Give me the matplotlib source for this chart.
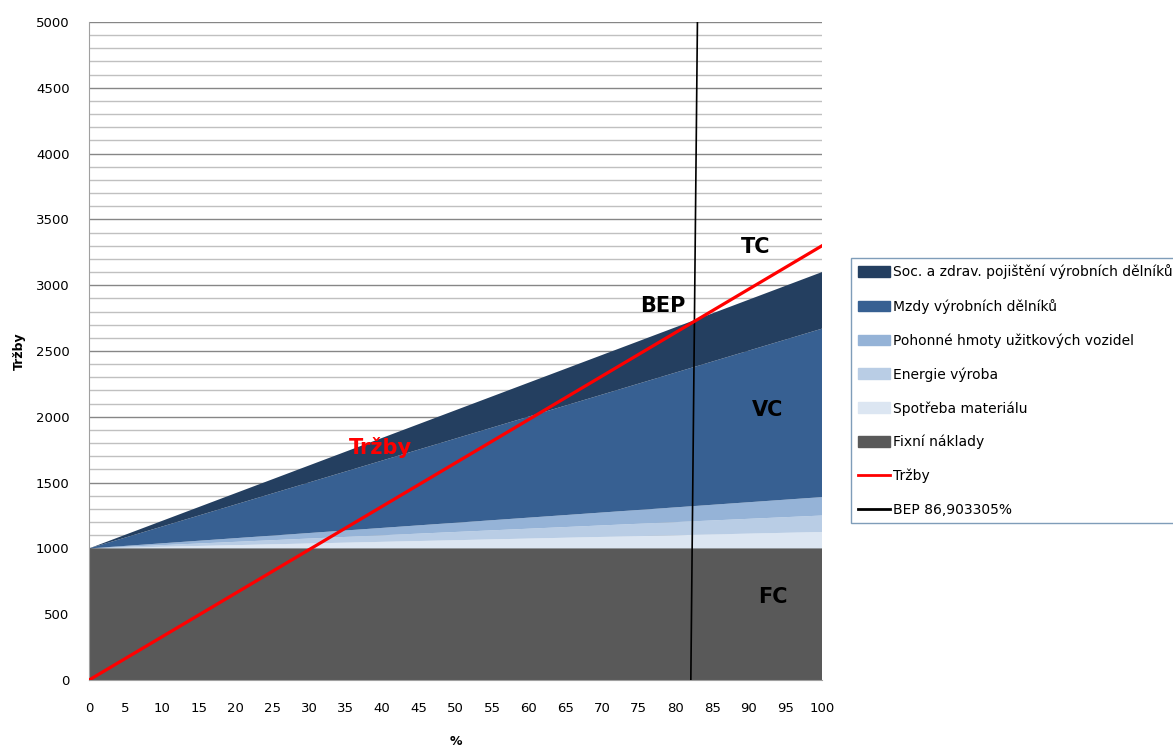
import numpy as np
import matplotlib
matplotlib.use("Agg")
from matplotlib import pyplot as plt
from matplotlib.patches import Patch
from matplotlib.lines import Line2D

# vyroba v % kapacity (linearni naklady, staci krajni body)
x = [0, 100]

fixni = [1000, 1000]
spotreba = [0, 125]
energie = [0, 125]
pohonne = [0, 140]
mzdy = [0, 1280]
soc = [0, 430]

trzby = [0, 3300]

bep_x = [82.1, 83.0]
bep_y = [0, 5000]

labels = ["Fixní náklady", "Spotřeba materiálu", "Energie výroba",
          "Pohonné hmoty užitkových vozidel", "Mzdy výrobních dělníků",
          "Soc. a zdrav. pojištění výrobních dělníků"]
colors = ["#595959", "#dce6f2", "#b9cde5", "#95b3d7", "#376092", "#243f60"]

plt.rcParams['font.family'] = ['DejaVu Sans']

fig = plt.figure(figsize=(11.73, 7.51), dpi=100)
ax = fig.add_axes([0.0759, 0.0945, 0.6249, 0.8762])

ax.stackplot(x, fixni, spotreba, energie, pohonne, mzdy, soc,
             colors=colors, zorder=2)
ax.plot(x, trzby, color="#ff0000", lw=2.3, zorder=4)
ax.plot(bep_x, bep_y, color="black", lw=1.2, zorder=3)

ax.set_xlim(0, 100)
ax.set_ylim(0, 5000)
ax.set_xticks(np.arange(0, 101, 5))
ax.set_yticks(np.arange(0, 5001, 500))
ax.set_yticks(np.arange(0, 5001, 100), minor=True)
ax.grid(which='major', axis='y', color='#868686', lw=1.0, zorder=0)
ax.grid(which='minor', axis='y', color='#c0c0c0', lw=1.0, zorder=0)
ax.set_axisbelow(True)
ax.tick_params(axis='both', which='both', length=0, labelsize=9.5)
ax.tick_params(axis='x', pad=16)
ax.tick_params(axis='y', pad=14)
for s in ['top', 'right']:
    ax.spines[s].set_visible(False)
for s in ['left', 'bottom']:
    ax.spines[s].set_color('#a0a0a0')

ax.set_xlabel("%", fontsize=9, fontweight='bold', labelpad=14)
ax.set_ylabel("Tržby", fontsize=9, fontweight='bold', labelpad=7)

# popisky oblasti
ax.text(90.9, 3290, "TC", fontsize=15, fontweight='bold', ha='center', va='center')
ax.text(78.3, 2840, "BEP", fontsize=15, fontweight='bold', ha='center', va='center')
ax.text(92.6, 2050, "VC", fontsize=15, fontweight='bold', ha='center', va='center')
ax.text(93.3, 630, "FC", fontsize=15, fontweight='bold', ha='center', va='center')
ax.text(39.8, 1770, "Tržby", fontsize=15, fontweight='bold', color='#ff0000',
        ha='center', va='center')

handles = [Patch(color=c) for c in colors[::-1]]
handles += [Line2D([], [], color="#ff0000", lw=2),
            Line2D([], [], color="black", lw=2)]
leg_labels = labels[::-1] + ["Tržby", "BEP 86,903305%"]
leg = fig.legend(handles, leg_labels, loc='upper left',
                 bbox_to_anchor=(0.7235, 0.66), fontsize=10,
                 handlelength=2.3, handleheight=0.8, handletextpad=0.25,
                 labelspacing=1.4, borderpad=0.45, borderaxespad=0.2,
                 fancybox=False, framealpha=1, edgecolor='#7f9db9')
leg.get_frame().set_linewidth(1.0)

fig.savefig("out.png", dpi=100)
